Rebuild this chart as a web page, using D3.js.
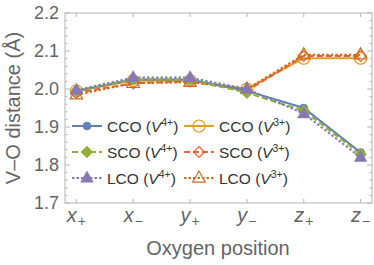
<!DOCTYPE html>
<html>
<head>
<meta charset="utf-8">
<script src="https://cdn.jsdelivr.net/npm/d3@7"></script>
<style>
  body { margin: 0; background: #fff; }
  svg { font-family: "Liberation Sans", Arial, sans-serif; }
</style>
</head>
<body>
<div id="chart"></div>
<script>
// oxygen positions along the x axis
const positions = ["+", "−", "+", "−", "+", "−"];
const positionLetters = ["x", "x", "y", "y", "z", "z"];

// V-O distances (Å)
const cco4 = [1.995, 2.025, 2.025, 1.995, 1.95, 1.833];
const sco4 = [1.995, 2.025, 2.025, 1.99, 1.943, 1.828];
const lco4 = [1.997, 2.03, 2.03, 2.0, 1.935, 1.82];
const cco3 = [1.995, 2.022, 2.022, 2.0, 2.081, 2.081];
const sco3 = [1.99, 2.015, 2.02, 1.995, 2.087, 2.087];
const lco3 = [1.985, 2.015, 2.018, 2.0, 2.09, 2.09];

const yTicks = [1.7, 1.8, 1.9, 2.0, 2.1, 2.2];

const series = [
  { name: "CCO", ox: "3+", values: cco3, color: "#E19C24", dash: null, marker: "circle", filled: false, col: 1, row: 0 },
  { name: "SCO", ox: "3+", values: sco3, color: "#EB6235", dash: "6,3", marker: "diamond", filled: false, col: 1, row: 1 },
  { name: "LCO", ox: "3+", values: lco3, color: "#C56E1A", dash: "2.5,2", marker: "triangle", filled: false, col: 1, row: 2 },
  { name: "CCO", ox: "4+", values: cco4, color: "#5E81B5", dash: null, marker: "circle", filled: true, col: 0, row: 0 },
  { name: "SCO", ox: "4+", values: sco4, color: "#8FB032", dash: "6,3", marker: "diamond", filled: true, col: 0, row: 1 },
  { name: "LCO", ox: "4+", values: lco4, color: "#8778B3", dash: "2.5,2", marker: "triangle", filled: true, col: 0, row: 2 },
];

const width = 374, height = 265;
const mLeft = 65, mRight = 372, mTop = 13, mBottom = 203;
const frameColor = "#b3b3b3", textColor = "#646464";

const svg = d3.select("#chart").append("svg")
  .attr("width", width).attr("height", height);

const x = d3.scaleLinear().domain([0.8, 6.2]).range([mLeft, mRight]);
const y = d3.scaleLinear().domain([1.7, 2.2]).range([mBottom, mTop]);

// frame
svg.append("rect")
  .attr("x", mLeft).attr("y", mTop)
  .attr("width", mRight - mLeft).attr("height", mBottom - mTop)
  .attr("fill", "none").attr("stroke", frameColor).attr("stroke-width", 1);

// y ticks, major + minor on left and right
const minor = d3.range(1.7, 2.2001, 0.02).map(v => +v.toFixed(2));
minor.forEach(v => {
  const isMajor = yTicks.some(t => Math.abs(t - v) < 1e-6);
  const len = isMajor ? 5 : 2.5;
  svg.append("line").attr("x1", mLeft).attr("x2", mLeft + len)
    .attr("y1", y(v)).attr("y2", y(v)).attr("stroke", frameColor);
  svg.append("line").attr("x1", mRight).attr("x2", mRight - len)
    .attr("y1", y(v)).attr("y2", y(v)).attr("stroke", frameColor);
});

svg.selectAll(".ylab").data(yTicks).join("text")
  .attr("x", mLeft - 6).attr("y", d => y(d))
  .attr("dy", "0.36em").attr("text-anchor", "end")
  .attr("font-size", 18).attr("fill", textColor)
  .text(d => d.toFixed(1));

// x ticks, bottom and top
d3.range(1, 7).forEach(i => {
  svg.append("line").attr("x1", x(i)).attr("x2", x(i))
    .attr("y1", mBottom).attr("y2", mBottom - 4).attr("stroke", frameColor);
  svg.append("line").attr("x1", x(i)).attr("x2", x(i))
    .attr("y1", mTop).attr("y2", mTop + 4).attr("stroke", frameColor);
});

const xl = svg.selectAll(".xlab").data(positions).join("text")
  .attr("x", (d, i) => x(i + 1)).attr("y", 222)
  .attr("text-anchor", "middle")
  .attr("font-size", 20).attr("fill", textColor);
xl.append("tspan").attr("font-style", "italic").text((d, i) => positionLetters[i]);
xl.append("tspan").attr("font-size", 14).attr("dy", 4).attr("dx", 1).text(d => d);

// axis titles
svg.append("text")
  .attr("x", 218).attr("y", 255)
  .attr("text-anchor", "middle").attr("font-size", 20).attr("fill", textColor)
  .text("Oxygen position");

svg.append("text")
  .attr("transform", `translate(20,${(mTop + mBottom) / 2}) rotate(-90)`)
  .attr("text-anchor", "middle").attr("font-size", 20).attr("fill", textColor)
  .text("V–O distance (Å)");

// markers
function drawMarker(g, type, cx, cy, color, filled) {
  let el;
  if (type === "circle") {
    el = g.append("circle").attr("cx", cx).attr("cy", cy).attr("r", filled ? 4 : 6);
  } else if (type === "diamond") {
    const s = filled ? 6 : 5.5;
    el = g.append("path").attr("d", `M${cx},${cy - s}L${cx + s},${cy}L${cx},${cy + s}L${cx - s},${cy}Z`);
  } else {
    const s = 7;
    el = g.append("path").attr("d", `M${cx},${cy - s}L${cx + s * 0.9},${cy + s * 0.6}L${cx - s * 0.9},${cy + s * 0.6}Z`);
  }
  el.attr("fill", filled ? color : "#fff").attr("fill-opacity", filled ? 1 : 0)
    .attr("stroke", color).attr("stroke-width", filled ? 0.5 : 1.2);
}

const line = d3.line().x((d, i) => x(i + 1)).y(d => y(d));

series.forEach(s => {
  const g = svg.append("g");
  g.append("path").datum(s.values).attr("d", line)
    .attr("fill", "none").attr("stroke", s.color).attr("stroke-width", 2)
    .attr("stroke-dasharray", s.dash);
  s.values.forEach((v, i) => drawMarker(g, s.marker, x(i + 1), y(v), s.color, s.filled));
});

// legend
const legendCols = [72, 184];
const legendRows = [126, 152, 178];
series.forEach(s => {
  const lx = legendCols[s.col], ly = legendRows[s.row];
  const g = svg.append("g");
  g.append("line").attr("x1", lx).attr("x2", lx + 30).attr("y1", ly).attr("y2", ly)
    .attr("stroke", s.color).attr("stroke-width", 2).attr("stroke-dasharray", s.dash);
  drawMarker(g, s.marker, lx + 15, ly, s.color, s.filled);
  const t = g.append("text").attr("x", lx + 35).attr("y", ly).attr("dy", "0.36em")
    .attr("font-size", 15.5).attr("fill", "#333");
  t.append("tspan").text(s.name + " (");
  t.append("tspan").attr("font-style", "italic").text("V");
  t.append("tspan").attr("font-size", 10.5).attr("dy", -6).text(s.ox);
  t.append("tspan").attr("dy", 6).text(")");
});
</script>
</body>
</html>
